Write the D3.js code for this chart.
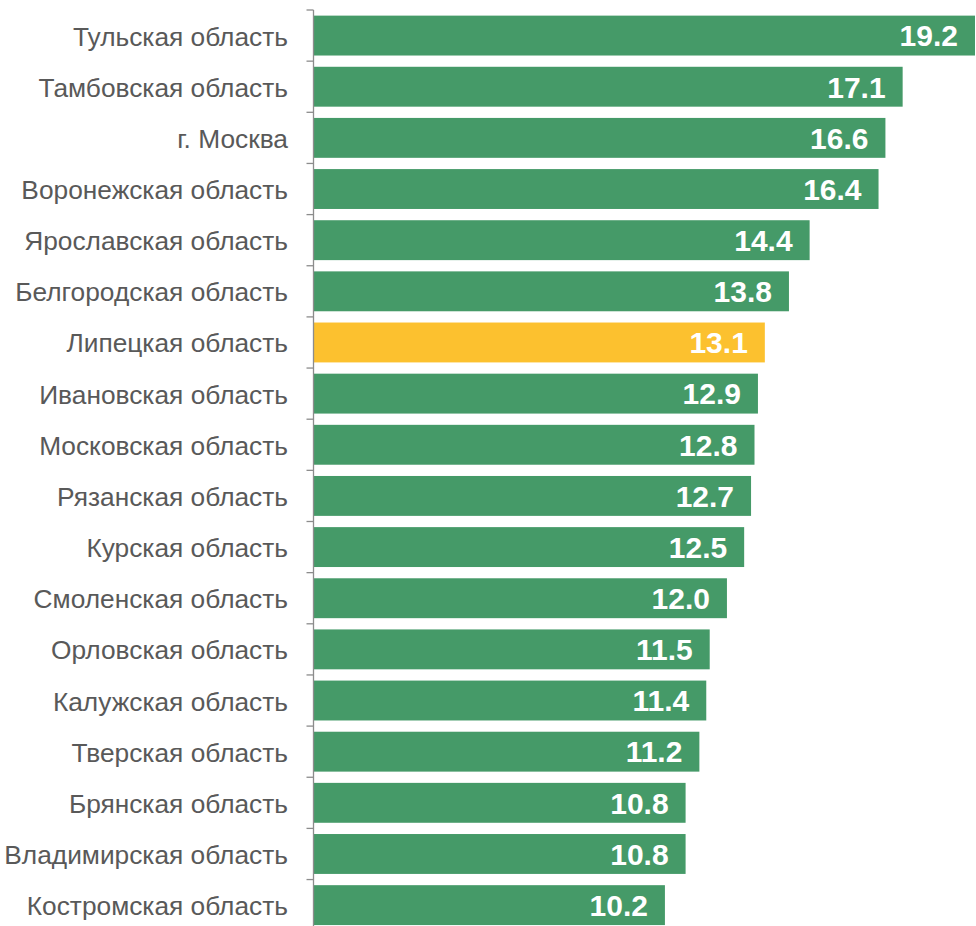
<!DOCTYPE html>
<html><head><meta charset="utf-8">
<script src="https://cdn.jsdelivr.net/npm/d3@7"></script>
<style>body{margin:0;background:#fff}svg{display:block}text{font-family:'Liberation Sans',Arial,sans-serif}</style>
</head><body><svg id="c" width="976" height="926"></svg>
<script>
const categories = ["Тульская область","Тамбовская область","г. Москва","Воронежская область","Ярославская область","Белгородская область","Липецкая область","Ивановская область","Московская область","Рязанская область","Курская область","Смоленская область","Орловская область","Калужская область","Тверская область","Брянская область","Владимирская область","Костромская область"];
const values = [19.2,17.1,16.6,16.4,14.4,13.8,13.1,12.9,12.8,12.7,12.5,12.0,11.5,11.4,11.2,10.8,10.8,10.2];
const highlight = ["Липецкая область"];

const svg = d3.select("#c");
const x0 = 313.5;
const x = d3.scaleLinear().domain([0,19.2]).range([x0,975]);
const y = d3.scaleBand().domain(categories).range([10,930.7]).paddingInner(0.22).paddingOuter(0.11);
const data = categories.map((c,i)=>({c,v:values[i]}));

svg.selectAll("rect.bar").data(data).join("rect").attr("class","bar")
  .attr("x",x(0)+0.5).attr("y",d=>y(d.c)).attr("width",d=>x(d.v)-x(0)-0.5).attr("height",y.bandwidth())
  .attr("fill",d=>highlight.includes(d.c)?"#FCC12F":"#459A68");

const g = svg.append("g").attr("stroke","#8c8c8c").attr("stroke-width",1.3);
g.append("line").attr("x1",x0).attr("x2",x0).attr("y1",10).attr("y2",926);
const step = y.step();
g.selectAll("line.t").data(d3.range(categories.length)).join("line").attr("class","t")
  .attr("x1",x0-7).attr("x2",x0).attr("y1",i=>10+i*step).attr("y2",i=>10+i*step);

svg.selectAll("text.cat").data(data).join("text").attr("class","cat")
  .attr("x",288).attr("y",d=>y(d.c)+y.bandwidth()/2).attr("dy","0.38em")
  .attr("text-anchor","end").attr("fill","#595959")
  .style("font-size","26.3px")
  .text(d=>d.c);

svg.selectAll("text.val").data(data).join("text").attr("class","val")
  .attr("x",d=>x(d.v)-17).attr("y",d=>y(d.c)+y.bandwidth()/2).attr("dy","0.36em")
  .attr("text-anchor","end").attr("fill","#fff")
  .style("font-size","30px").style("font-weight","bold")
  .text(d=>d.v.toFixed(1));
</script></body></html>
